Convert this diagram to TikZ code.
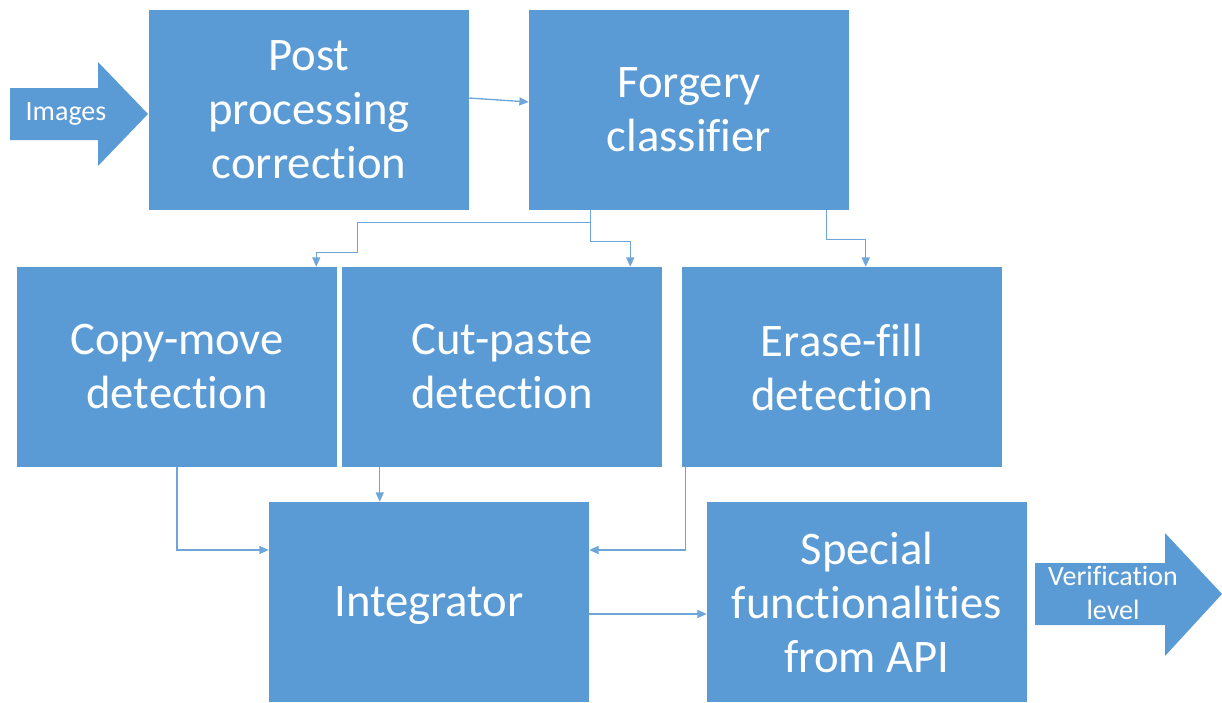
\documentclass[tikz,border=0pt]{standalone}
\usepackage{fontspec}
\setmainfont{Carlito}[Ligatures=NoCommon]
\usetikzlibrary{arrows.meta}
\definecolor{boxblue}{HTML}{5B9BD5}
\definecolor{lineblue}{HTML}{6FA6DA}

\begin{document}
\begin{tikzpicture}[x=0.75pt,y=-0.75pt,
        stage/.style={fill=boxblue, text=white, minimum width=240pt, minimum height=150pt,
            inner sep=0pt, align=center, font=\fontsize{35}{40.5}\selectfont},
        conn/.style={draw=lineblue, line width=1pt, -{Triangle[length=7pt,width=6pt]}},
        arrowtext/.style={text=white, align=center, font=\fontsize{21}{25.5}\selectfont}]
            \useasboundingbox (0,0) rectangle (1222,703);

            % big input / output arrows
            \fill[boxblue] (10,88) -- (98,88) -- (98,62) -- (148,114) -- (98,166) -- (98,140) -- (10,140) -- cycle;
            \node[arrowtext] (images) at (66,114) {Images};
            \fill[boxblue] (1035,563) -- (1165,563) -- (1165,533) -- (1222,594) -- (1165,656) -- (1165,625) -- (1035,625) -- cycle;
            \node[arrowtext] (verif) at (1113,593) {Verification\\level};

            \node[stage] (post) at (309,110) {Post\\processing\\correction};
            \node[stage] (forgery) at (689,110) {Forgery\\classifier};

            \node[stage] (copymove) at (177,367) {Copy-move\\detection};
            \node[stage] (cutpaste) at (502,367) {Cut-paste\\detection};
            \node[stage] (erasefill) at (842,367) {Erase-fill\\detection};

            \node[stage] (integrator) at (429,602) {\raisebox{-10.5pt}[0pt][0pt]{Integrator}};
            \node[stage] (special) at (867,602) {Special\\functionalities\\from API};

            \draw[conn] ([yshift=9pt]post.east) -- ([yshift=6pt]forgery.west);

            \draw[conn] ([xshift=46.5pt]forgery.south west) -- ++(0,12) -- ++(-233,0) -- ++(0,30)
                -| ([xshift=-15.75pt]copymove.north east);
            \draw[conn] ([xshift=46.5pt]forgery.south west) -- ++(0,31) -| ([xshift=-24pt]cutpaste.north east);
            \draw[conn] ([xshift=-17.25pt]forgery.south east) -- ++(0,29) -| ([xshift=138pt]erasefill.north west);

            \draw[conn] (copymove.south) |- ([yshift=39pt]integrator.west);
            \draw[conn] ([xshift=28.5pt]cutpaste.south west) coordinate (cpout) -- (cpout |- integrator.north);
            \draw[conn] ([xshift=3pt]erasefill.south west) |- ([yshift=39pt]integrator.east);

            \draw[conn] ([yshift=-9pt]integrator.east) -- ([yshift=-9pt]special.west);
        \end{tikzpicture}
\end{document}
